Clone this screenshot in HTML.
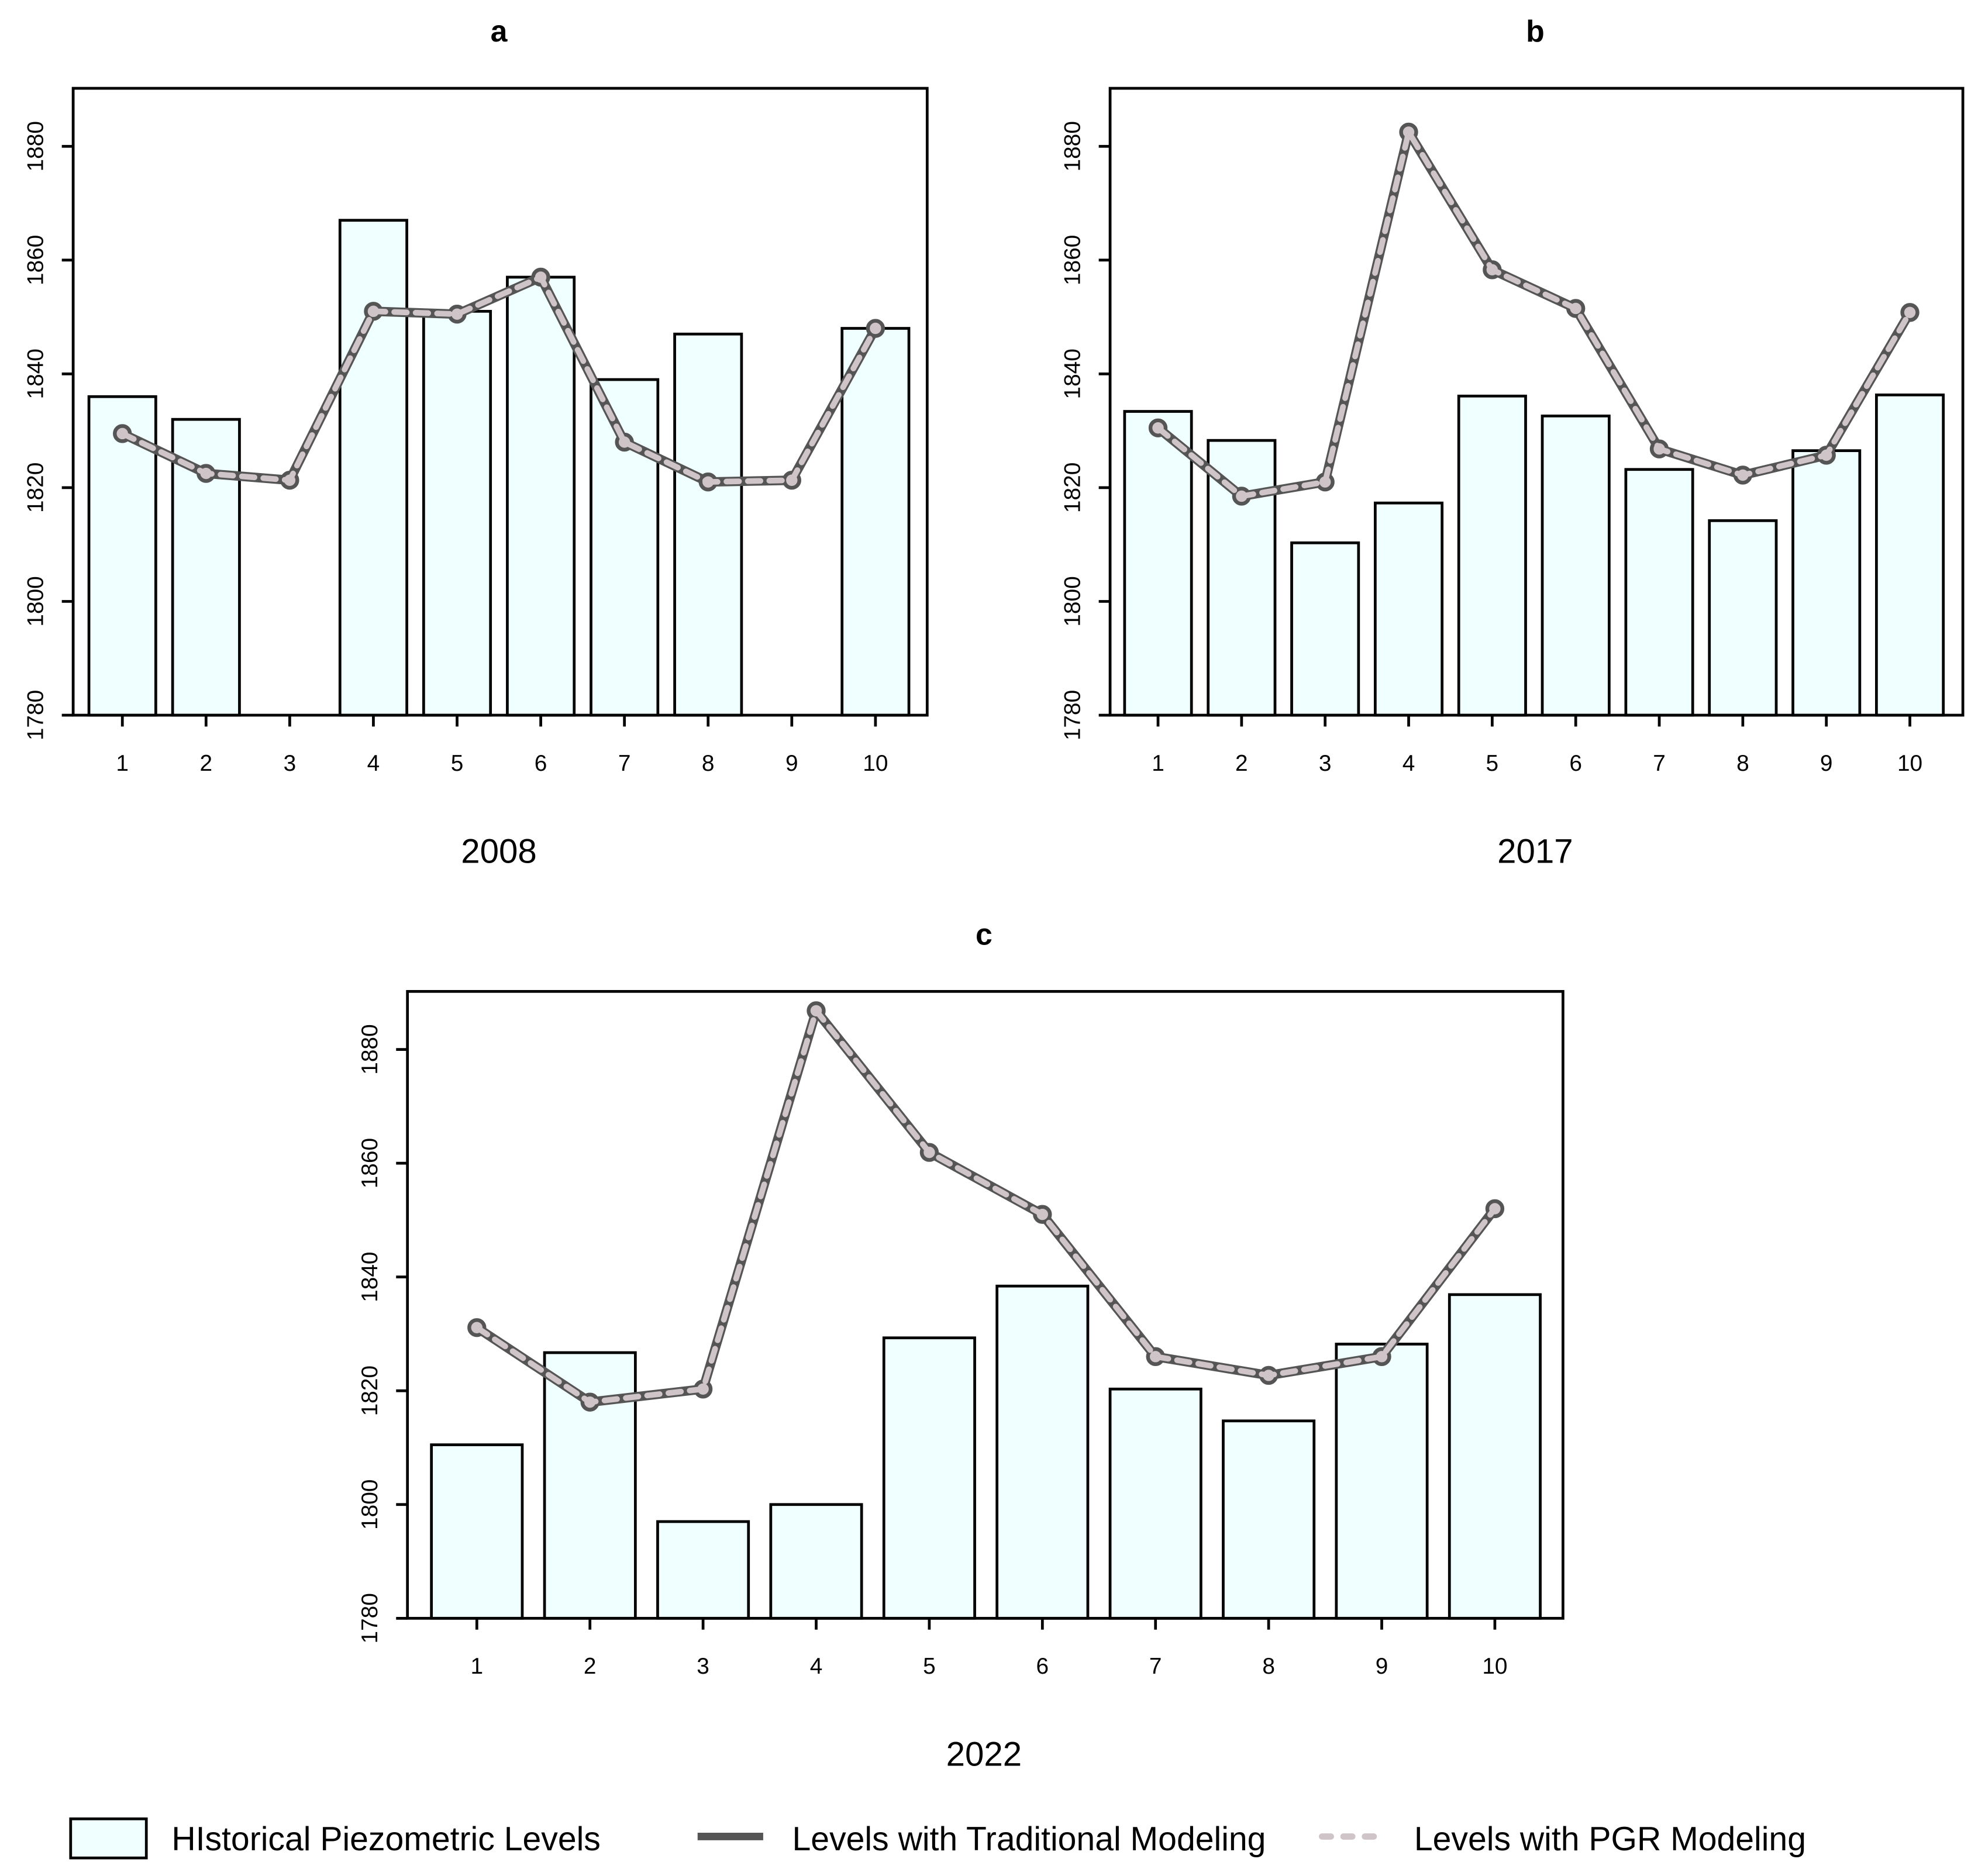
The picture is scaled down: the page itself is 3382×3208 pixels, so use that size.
<!DOCTYPE html>
<html><head><meta charset="utf-8"><style>html,body{margin:0;padding:0;background:#fff}svg{display:block}text{font-family:"Liberation Sans",Arial,sans-serif}</style></head>
<body>
<svg id="chart" width="3382" height="3208" viewBox="0 0 1568 1487.3" xmlns="http://www.w3.org/2000/svg"></svg>
<script>
const categories = [1,2,3,4,5,6,7,8,9,10];
const yTicks = [1780,1800,1820,1840,1860,1880];
const barsA = [1836,1832,null,1867,1851,1857,1839,1847,null,1848];
const lineA = [1829.5,1822.5,1821.3,1851,1850.5,1857,1828,1821,1821.3,1848];
const barsB = [1833.4,1828.3,1810.3,1817.3,1836.1,1832.6,1823.2,1814.2,1826.5,1836.3];
const lineB = [1830.5,1818.5,1821,1882.5,1858.3,1851.5,1826.8,1822.2,1825.7,1850.8];
const barsC = [1810.5,1826.7,1797,1800,1829.3,1838.4,1820.3,1814.7,1828.2,1836.9];
const lineC = [1831.1,1818,1820.3,1886.8,1861.9,1851,1826,1822.7,1826,1852];
const titles = ["a","b","c"];
const years = ["2008","2017","2022"];

const NS="http://www.w3.org/2000/svg";
const svg=document.getElementById('chart');
function mk(tag,attrs,parent){const e=document.createElementNS(NS,tag);for(const k in attrs)e.setAttribute(k,attrs[k]);(parent||svg).appendChild(e);return e;}

const panels=[
 {x0:58,x1:735,y0:70,y1:567,c0:97,c9:694,bw:53,bars:barsA,line:lineA,title:titles[0],year:years[0],name:'panel-a'},
 {x0:880,x1:1556,y0:70,y1:567,c0:918,c9:1514,bw:53,bars:barsB,line:lineB,title:titles[1],year:years[1],name:'panel-b'},
 {x0:323,x1:1239,y0:786,y1:1283,c0:378,c9:1185,bw:72,bars:barsC,line:lineC,title:titles[2],year:years[2],name:'panel-c'}
];
const YMIN=1780,YMAX=1890.2;
panels.forEach(p=>{
 const g=mk('g',{});
 
 
 const sp=(p.c9-p.c0)/9;
 const xc=i=>p.c0+sp*i;
 const ys=v=>p.y1-(v-YMIN)/(YMAX-YMIN)*(p.y1-p.y0);
 const cx=(p.x0+p.x1)/2;
 const t=mk('text',{x:cx-1,y:p.y0-37,'text-anchor':'middle','font-size':24,'font-weight':'bold'},g);t.textContent=p.title;
 
 
 p.bars.forEach((v,i)=>{
  if(v==null)return;
  const r=mk('rect',{x:xc(i)-p.bw/2,y:ys(v),width:p.bw,height:p.y1-ys(v),fill:'#f0ffff',stroke:'#000','stroke-width':2.2},g);
  
  
 });
 const box=mk('rect',{x:p.x0,y:p.y0,width:p.x1-p.x0,height:p.y1-p.y0,fill:'none',stroke:'#000','stroke-width':2.2},g);
 
 
 yTicks.forEach(v=>{
  mk('line',{x1:p.x0-9,x2:p.x0,y1:ys(v),y2:ys(v),stroke:'#000','stroke-width':2.2},g);
  const tl=mk('text',{x:p.x0-30,y:ys(v),'text-anchor':'middle','font-size':18,transform:`rotate(-90 ${p.x0-30} ${ys(v)})`,dy:6},g);
  tl.textContent=v;
  
  
 });
 categories.forEach((c,i)=>{
  mk('line',{x1:xc(i),x2:xc(i),y1:p.y1,y2:p.y1+9,stroke:'#000','stroke-width':2.2},g);
  const tl=mk('text',{x:xc(i),y:p.y1+44,'text-anchor':'middle','font-size':18},g);
  tl.textContent=c;
  
  
 });
 const pts=p.line.map((v,i)=>xc(i)+','+ys(v)).join(' ');
 const l1=mk('polyline',{points:pts,fill:'none',stroke:'#555','stroke-width':7.5,'stroke-linejoin':'round'},g);
 
 
 p.line.forEach((v,i)=>{
  const c=mk('circle',{cx:xc(i),cy:ys(v),r:6,fill:'#cfc4c8',stroke:'#555','stroke-width':3},g);
  
  
 });
 const l2=mk('polyline',{points:pts,fill:'none',stroke:'#cfc4c8','stroke-width':4.5,'stroke-dasharray':'10 7','stroke-linejoin':'round','stroke-linecap':'round'},g);
 
 
 const yr=mk('text',{x:cx-1,y:p.y1+117,'text-anchor':'middle','font-size':27},g);yr.textContent=p.year;
 
 
});
</script>
<svg style="position:absolute;left:0;top:0" width="3382" height="3208" viewBox="0 0 1568 1487.3" xmlns="http://www.w3.org/2000/svg">
 <rect x="56" y="1442" width="60" height="31" fill="#f0ffff" stroke="#000" stroke-width="2.2"/>
 <text x="136" y="1467" font-size="26.5">HIstorical Piezometric Levels</text>
 <line x1="553" y1="1456" x2="605" y2="1456" stroke="#555" stroke-width="6"/>
 <text x="628" y="1467" font-size="26.5">Levels with Traditional Modeling</text>
 <line x1="1048" y1="1456" x2="1098" y2="1456" stroke="#cfc4c8" stroke-width="5" stroke-dasharray="7 10" stroke-linecap="round"/>
 <text x="1121" y="1467" font-size="26.5">Levels with PGR Modeling</text>
</svg>
</body></html>
